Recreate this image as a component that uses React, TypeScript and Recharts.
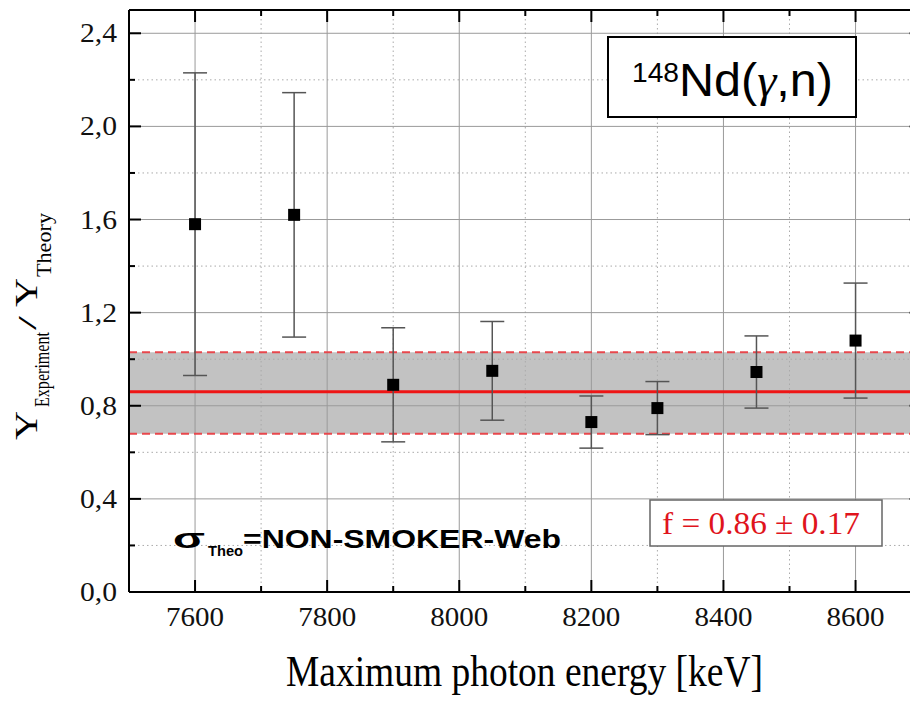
import React from 'react';
import { ComposedChart, Scatter, XAxis, YAxis, ReferenceLine, ReferenceArea, ErrorBar } from 'recharts';

// ---- data ----
const energies = [7600, 7750, 7900, 8050, 8200, 8300, 8450, 8600];
const ratios = [1.58, 1.62, 0.89, 0.95, 0.73, 0.79, 0.945, 1.08];
const errors = [0.65, 0.525, 0.245, 0.212, 0.112, 0.114, 0.155, 0.247];

const xMajorTicks = [7600, 7800, 8000, 8200, 8400, 8600];
const xMinorTicks = [7700, 7900, 8100, 8300, 8500];
const yMajorTicks = [0, 0.4, 0.8, 1.2, 1.6, 2.0, 2.4];
const yMinorTicks = [0.2, 0.6, 1.0, 1.4, 1.8, 2.2];
const yTickLabels = ['0,0', '0,4', '0,8', '1,2', '1,6', '2,0', '2,4'];

const fitValue = 0.86;
const bandLow = 0.68;
const bandHigh = 1.03;
const xDomain: [number, number] = [7500, 8700];
const yDomain: [number, number] = [0, 2.5];

const data = energies.map((x, i) => ({ x, y: ratios[i], err: errors[i] }));

// ---- layout ----
const CHART_W = 940;
const CHART_H = 702;
const PLOT_LEFT = 129;
const PLOT_TOP = 10;
const PLOT_BOTTOM = 592;
const PLOT_RIGHT = 921.6;
const SERIF = 'Liberation Serif, Times New Roman, serif';
const SANS = 'Liberation Sans, Arial, sans-serif';

const XTick = (props: any) => {
  const { x, payload } = props;
  const v = payload.value;
  const idx = xMajorTicks.indexOf(v);
  const major = idx >= 0;
  const len = major ? 12 : 6;
  return (
    <g>
      <line x1={x} x2={x} y1={PLOT_BOTTOM} y2={PLOT_BOTTOM - len} stroke="#000" strokeWidth={2} />
      <line x1={x} x2={x} y1={PLOT_TOP} y2={PLOT_TOP + len} stroke="#000" strokeWidth={2} />
      {major && (
        <text x={x} y={626} textAnchor="middle" style={{ fontFamily: SERIF, fontSize: 27 }} fill="#111"
          textLength={58} lengthAdjust="spacingAndGlyphs">{String(v)}</text>
      )}
    </g>
  );
};

const YTick = (props: any) => {
  const { y, payload } = props;
  const v = payload.value;
  const idx = yMajorTicks.findIndex((t) => Math.abs(t - v) < 1e-6);
  const major = idx >= 0;
  const len = major ? 12 : 6;
  return (
    <g>
      <line x1={PLOT_LEFT} x2={PLOT_LEFT + len} y1={y} y2={y} stroke="#000" strokeWidth={2} />
      <line x1={PLOT_RIGHT} x2={PLOT_RIGHT - len} y1={y} y2={y} stroke="#000" strokeWidth={2} />
      {major && (
        <text x={117} y={y + 9} textAnchor="end" style={{ fontFamily: SERIF, fontSize: 27 }} fill="#111"
          textLength={37} lengthAdjust="spacingAndGlyphs">{yTickLabels[idx]}</text>
      )}
    </g>
  );
};

const Marker = (props: any) => {
  const { cx, cy } = props;
  if (cx == null || cy == null) return null;
  return <rect x={cx - 6} y={cy - 6} width={12} height={12} fill="#000" />;
};

export default function App() {
  const allX = [...xMajorTicks, ...xMinorTicks].sort((a, b) => a - b);
  const allY = [...yMajorTicks, ...yMinorTicks].sort((a, b) => a - b);
  return (
    <div style={{ position: 'fixed', left: 0, top: 0, width: 910, height: 702, overflow: 'hidden', background: '#fff' }}>
      <ComposedChart
        width={CHART_W}
        height={CHART_H}
        margin={{ top: PLOT_TOP, right: CHART_W - PLOT_RIGHT, bottom: 80, left: PLOT_LEFT - 60 }}
      >
        <XAxis
          dataKey="x"
          type="number"
          domain={xDomain}
          ticks={allX}
          interval={0}
          tick={<XTick />}
          tickLine={false}
          axisLine={{ stroke: '#000', strokeWidth: 2 }}
          height={30}
          allowDataOverflow
        />
        <YAxis
          type="number"
          domain={yDomain}
          ticks={allY}
          interval={0}
          tick={<YTick />}
          tickLine={false}
          axisLine={{ stroke: '#000', strokeWidth: 2 }}
          width={60}
          allowDataOverflow
        />
        {xMinorTicks.map((v) => (
          <ReferenceLine key={'xm' + v} x={v} stroke="#aaa" strokeWidth={1} strokeDasharray="1.5 3" />
        ))}
        {yMinorTicks.map((v) => (
          <ReferenceLine key={'ym' + v} y={v} stroke="#aaa" strokeWidth={1} strokeDasharray="1.5 3" />
        ))}
        {xMajorTicks.map((v) => (
          <ReferenceLine key={'xM' + v} x={v} stroke="#9a9a9a" strokeWidth={1} />
        ))}
        {yMajorTicks.slice(1).map((v) => (
          <ReferenceLine key={'yM' + v} y={v} stroke="#9a9a9a" strokeWidth={1} />
        ))}
        <ReferenceArea y1={bandLow} y2={bandHigh} fill="#a8a8a8" fillOpacity={0.7} stroke="none" />
        <ReferenceLine y={bandHigh} stroke="#e8474c" strokeWidth={2} strokeDasharray="8 5" />
        <ReferenceLine y={bandLow} stroke="#e8474c" strokeWidth={2} strokeDasharray="8 5" />
        <ReferenceLine y={fitValue} stroke="#ee1515" strokeWidth={3} />
        <ReferenceLine y={yDomain[1]} stroke="#000" strokeWidth={2} />
        <ReferenceLine x={xDomain[1]} stroke="#000" strokeWidth={2} />
        <Scatter data={data} dataKey="y" shape={<Marker />} isAnimationActive={false}>
          <ErrorBar dataKey="err" direction="y" width={12} stroke="#555" strokeWidth={1.5} />
        </Scatter>
      </ComposedChart>
      <svg width={910} height={702} style={{ position: 'absolute', left: 0, top: 0, pointerEvents: 'none' }}>
        {/* reaction label box */}
        <rect x={608} y={37} width={248} height={80} fill="#fff" stroke="#000" strokeWidth={2} />
        <text x={632} y={82} style={{ fontFamily: SANS, fontSize: 28 }} fill="#000" textLength={47} lengthAdjust="spacingAndGlyphs">148</text>
        <text x={679} y={96} style={{ fontFamily: SANS, fontSize: 46 }} fill="#000" textLength={154} lengthAdjust="spacingAndGlyphs">
          Nd(<tspan style={{ fontFamily: SERIF, fontStyle: 'italic' }}>γ</tspan>,n)
        </text>
        {/* theory label */}
        <text x={173} y={548} style={{ fontFamily: SANS, fontSize: 28, fontWeight: 'bold' }} fill="#000" textLength={32} lengthAdjust="spacingAndGlyphs">σ</text>
        <text x={208} y={556} style={{ fontFamily: SANS, fontSize: 15, fontWeight: 'bold' }} fill="#000" textLength={35} lengthAdjust="spacingAndGlyphs">Theo</text>
        <text x={243} y={548} style={{ fontFamily: SANS, fontSize: 26, fontWeight: 'bold' }} fill="#000" textLength={318} lengthAdjust="spacingAndGlyphs">=NON-SMOKER-Web</text>
        {/* fit result box */}
        <rect x={650} y={500} width={232} height={46} fill="#fff" stroke="#666" strokeWidth={1.5} />
        <text x={662} y={534} style={{ fontFamily: SERIF, fontSize: 31 }} fill="#e0141c" textLength={198} lengthAdjust="spacingAndGlyphs">f = 0.86 ± 0.17</text>
        {/* x axis title */}
        <text x={286} y={686} style={{ fontFamily: SERIF, fontSize: 44 }} fill="#000" textLength={477} lengthAdjust="spacingAndGlyphs">Maximum photon energy [keV]</text>
        {/* y axis title */}
        <g transform="rotate(-90)" style={{ fontFamily: SERIF }} fill="#000">
          <text x={-440} y={37} style={{ fontSize: 31 }} textLength={29} lengthAdjust="spacingAndGlyphs">Y</text>
          <text x={-407} y={49} style={{ fontSize: 20 }} textLength={75} lengthAdjust="spacingAndGlyphs">Experiment</text>
          <text x={-330} y={36} style={{ fontSize: 26 }} textLength={14} lengthAdjust="spacingAndGlyphs">/</text>
          <text x={-307} y={37} style={{ fontSize: 31 }} textLength={29} lengthAdjust="spacingAndGlyphs">Y</text>
          <text x={-277} y={51} style={{ fontSize: 21 }} textLength={64} lengthAdjust="spacingAndGlyphs">Theory</text>
        </g>
      </svg>
    </div>
  );
}
